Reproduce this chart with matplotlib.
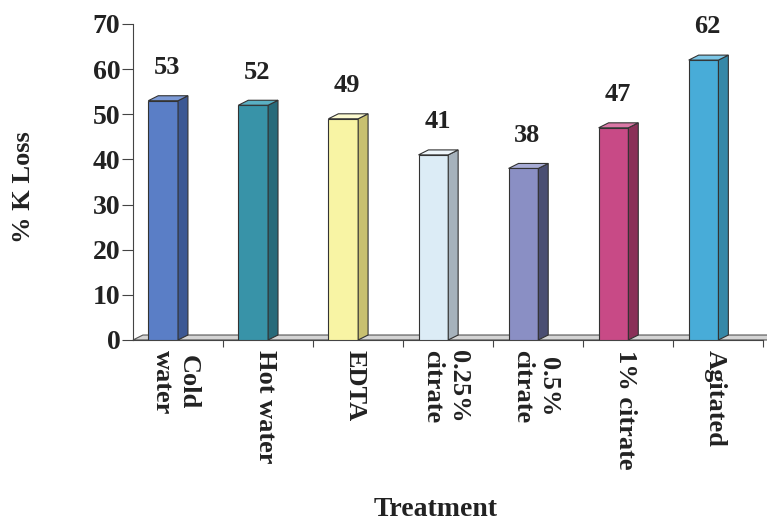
import matplotlib.pyplot as plt
from matplotlib.patches import Polygon

# data
treatments = ["Cold\nwater", "Hot water", "EDTA", "0.25%\ncitrate", "0.5%\ncitrate", "1% citrate", "Agitated"]
k_loss = [53, 52, 49, 41, 38, 47, 62]
front_colors = ["#5a7ec6", "#3893a8", "#f8f4a4", "#dcecf6", "#8a8fc4", "#c84a86", "#48acd8"]
side_colors = ["#3c5894", "#276a7a", "#c8c070", "#a6b2bc", "#4a4e72", "#8a3058", "#3688a8"]
top_colors = ["#7c9ad6", "#5ab0c4", "#fcfad0", "#eef6fb", "#a8acd6", "#da78a6", "#7cc6e6"]

plt.rcParams['font.family'] = ['Liberation Serif', 'DejaVu Serif']
plt.rcParams['font.weight'] = 'bold'

fig = plt.figure(figsize=(7.67, 5.22), dpi=100)
ax = fig.add_axes([0.1734, 0.3487, 0.822, 0.6054])
ax.set_xlim(0, 7)
ax.set_ylim(0, 70)

dx, dy = 0.11, 1.1   # fake 3d depth
x0, w = 0.17, 0.33   # front face offset and width within a category

# floor slab
floor = Polygon([(0, 0), (dx, dy), (7.05, dy), (7.05, 0)], closed=True,
                facecolor="#d4d4d4", edgecolor="#555555", lw=0.8, clip_on=False, zorder=1)
ax.add_patch(floor)

for i, v in enumerate(k_loss):
    left = i + x0
    right = left + w
    ax.add_patch(Polygon([(left, 0), (right, 0), (right, v), (left, v)], closed=True,
                         facecolor=front_colors[i], edgecolor="#333333", lw=0.8, zorder=3))
    ax.add_patch(Polygon([(right, 0), (right + dx, dy), (right + dx, v + dy), (right, v)], closed=True,
                         facecolor=side_colors[i], edgecolor="#333333", lw=0.8, zorder=3))
    ax.add_patch(Polygon([(left, v), (right, v), (right + dx, v + dy), (left + dx, v + dy)], closed=True,
                         facecolor=top_colors[i], edgecolor="#333333", lw=0.8, zorder=3))
    ax.text(left + w / 2 + 0.045, v + 4.8, str(v), ha="center", va="bottom",
            fontsize=19, fontweight="bold", color="#222222")

for s in ["top", "right"]:
    ax.spines[s].set_visible(False)
ax.spines["left"].set_color("#444444")
ax.spines["bottom"].set_color("#444444")

ax.set_yticks(range(0, 71, 10))
ax.tick_params(axis="y", labelsize=20, length=8, color="#444444", pad=1, labelcolor="#222222")

# category ticks on boundaries, labels at category centres
ax.set_xticks(range(1, 8))
ax.set_xticklabels([])
ax.tick_params(axis="x", length=5, color="#444444")
for i, lab in enumerate(treatments):
    ax.text(i + 0.47, -2.2, lab, rotation=270, ha="center", va="top",
            fontsize=19, fontweight="bold", linespacing=1.15, color="#222222")

fig.text(0.03, 0.642, "% K Loss", rotation=90, ha="center", va="center",
         fontsize=19, fontweight="bold", color="#222222")
fig.text(0.568, 0.023, "Treatment", ha="center", va="center",
         fontsize=20, fontweight="bold", color="#222222")

fig.savefig("out.png", dpi=100)
